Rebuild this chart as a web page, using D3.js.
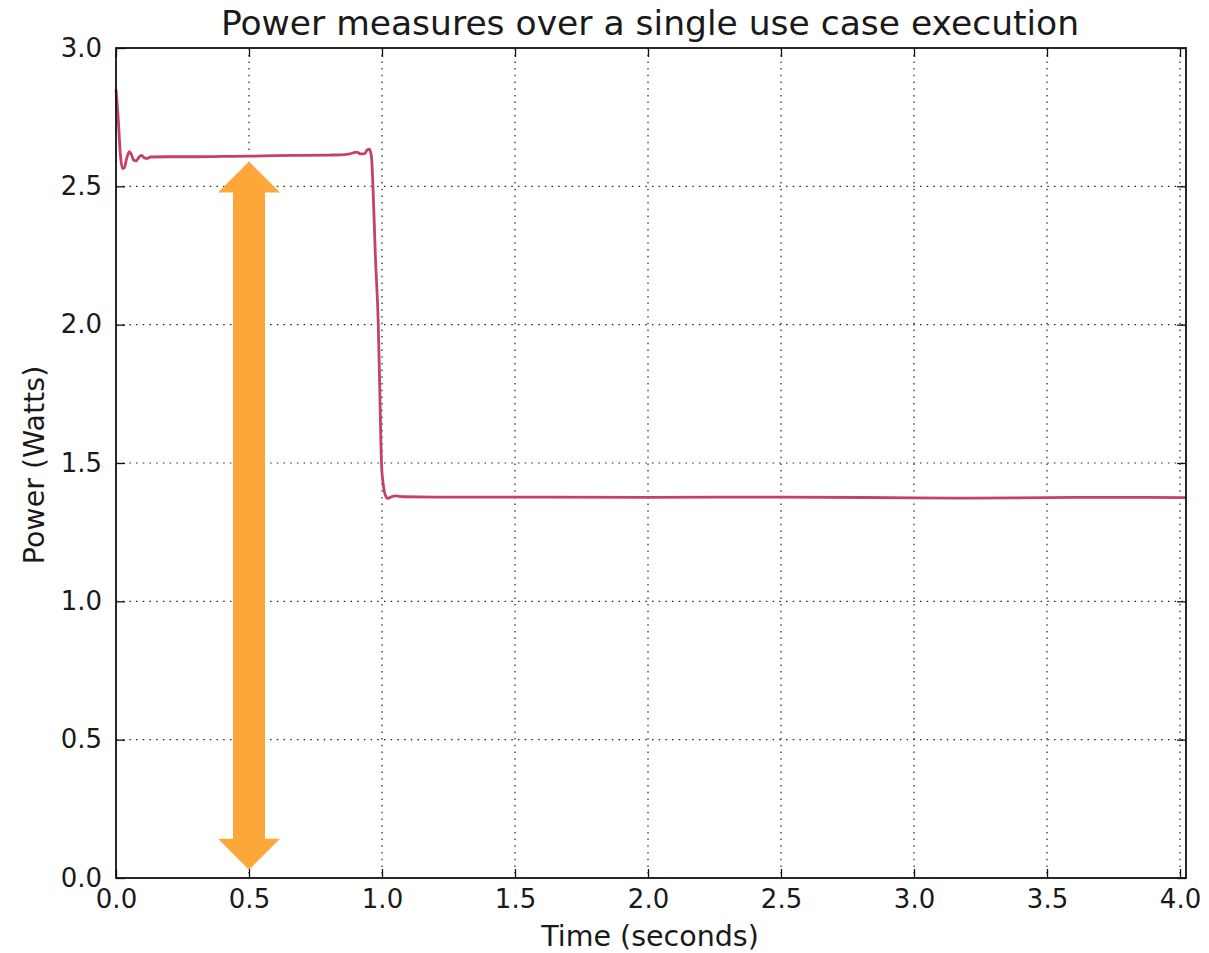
<!DOCTYPE html>
<html>
<head>
<meta charset="utf-8">
<script src="https://cdn.jsdelivr.net/npm/d3@7"></script>
<style>
  html, body { margin: 0; padding: 0; background: #fff; }
  svg { display: block; }
  text { font-family: "DejaVu Sans", sans-serif; fill: #1a1a1a; }
</style>
</head>
<body>
<svg id="chart" width="1209" height="953"></svg>
<script>
// Sampled power trace over one use-case run
const timeSec = [0.000, 0.008, 0.016, 0.024, 0.030, 0.040, 0.050, 0.058, 0.066, 0.076,
  0.086, 0.096, 0.106, 0.116, 0.130, 0.200, 0.300, 0.400, 0.500, 0.600,
  0.700, 0.800, 0.850, 0.880, 0.905, 0.920, 0.935, 0.945, 0.952, 0.960,
  0.966, 0.975, 0.986, 0.992, 0.998, 1.005, 1.012, 1.022, 1.035, 1.050,
  1.080, 1.200, 1.500, 2.000, 2.500, 3.000, 3.200, 3.500, 3.800, 4.0225];
const powerWatts = [2.850, 2.750, 2.620, 2.565, 2.565, 2.600, 2.625, 2.615, 2.595, 2.592,
  2.605, 2.612, 2.603, 2.601, 2.606, 2.607, 2.607, 2.608, 2.609, 2.611,
  2.612, 2.613, 2.614, 2.617, 2.624, 2.617, 2.618, 2.632, 2.634, 2.610,
  2.500, 2.250, 2.000, 1.750, 1.500, 1.420, 1.385, 1.372, 1.378, 1.381,
  1.378, 1.377, 1.377, 1.376, 1.377, 1.374, 1.373, 1.375, 1.376, 1.375];

// Axis ticks
const xTicks = [0, 0.5, 1.0, 1.5, 2.0, 2.5, 3.0, 3.5, 4.0];
const yTicks = [0, 0.5, 1.0, 1.5, 2.0, 2.5, 3.0];

// Double-headed arrow annotation (time, from power, to power)
const arrowTime = [0.5];
const arrowSpan = [0.03, 2.59];

const svg = d3.select("#chart");
const plotL = 116, plotR = 1186, plotT = 48, plotB = 878;

const x = d3.scaleLinear().domain([0, 4.0225]).range([plotL, plotR]);
const y = d3.scaleLinear().domain([0, 3]).range([plotB, plotT]);

// Dotted grid
const grid = svg.append("g").attr("stroke", "#222").attr("stroke-width", 1.2)
  .attr("stroke-dasharray", "1.5,5.2");
grid.selectAll(".vg").data(xTicks.filter(d => d > 0)).join("line")
  .attr("x1", d => x(d)).attr("x2", d => x(d)).attr("y1", plotT).attr("y2", plotB);
grid.selectAll(".hg").data(yTicks.filter(d => d > 0 && d < 3)).join("line")
  .attr("x1", plotL).attr("x2", plotR).attr("y1", d => y(d)).attr("y2", d => y(d));

// Power trace
const pts = timeSec.map((t, i) => [t, powerWatts[i]]);
const line = d3.line().x(d => x(d[0])).y(d => y(d[1])).curve(d3.curveMonotoneX);
svg.append("path").datum(pts)
  .attr("d", line).attr("fill", "none")
  .attr("stroke", "#c4406e").attr("stroke-width", 2.8)
  .attr("stroke-linejoin", "round");

// Arrow
const ax = x(arrowTime[0]);
const yTop = y(arrowSpan[1]), yBot = y(arrowSpan[0]);
const headLen = 31, headHalf = 31, shaftHalf = 16;
const arrowPath = d3.path();
arrowPath.moveTo(ax, yTop);
arrowPath.lineTo(ax + headHalf, yTop + headLen);
arrowPath.lineTo(ax + shaftHalf, yTop + headLen);
arrowPath.lineTo(ax + shaftHalf, yBot - headLen);
arrowPath.lineTo(ax + headHalf, yBot - headLen);
arrowPath.lineTo(ax, yBot);
arrowPath.lineTo(ax - headHalf, yBot - headLen);
arrowPath.lineTo(ax - shaftHalf, yBot - headLen);
arrowPath.lineTo(ax - shaftHalf, yTop + headLen);
arrowPath.lineTo(ax - headHalf, yTop + headLen);
arrowPath.closePath();
svg.append("path").attr("d", arrowPath.toString()).attr("fill", "#fda73a");

// Axes with inward ticks on all four sides
const tickLen = 9;
const xBottom = d3.axisBottom(x).tickValues(xTicks).tickSize(-tickLen).tickPadding(12)
  .tickFormat(d3.format(".1f"));
const xTop = d3.axisTop(x).tickValues(xTicks).tickSize(-tickLen).tickFormat("");
const yLeft = d3.axisLeft(y).tickValues(yTicks).tickSize(-tickLen).tickPadding(14)
  .tickFormat(d3.format(".1f"));
const yRight = d3.axisRight(y).tickValues(yTicks).tickSize(-tickLen).tickFormat("");

function styleAxis(g) {
  g.select(".domain").remove();
  g.selectAll(".tick line").attr("stroke", "#111").attr("stroke-width", 1.3);
  g.selectAll(".tick text").attr("font-family", "DejaVu Sans, sans-serif")
    .attr("font-size", 26).attr("fill", "#1a1a1a");
}
svg.append("g").attr("transform", `translate(0,${plotB})`).call(xBottom).call(styleAxis);
svg.append("g").attr("transform", `translate(0,${plotT})`).call(xTop).call(styleAxis);
svg.append("g").attr("transform", `translate(${plotL},0)`).call(yLeft).call(styleAxis);
svg.append("g").attr("transform", `translate(${plotR},0)`).call(yRight).call(styleAxis);

// Frame
svg.append("rect").attr("x", plotL).attr("y", plotT)
  .attr("width", plotR - plotL).attr("height", plotB - plotT)
  .attr("fill", "none").attr("stroke", "#111").attr("stroke-width", 1.8);

// Titles
svg.append("text").attr("x", 650).attr("y", 35)
  .attr("text-anchor", "middle").attr("font-size", 34.5)
  .text("Power measures over a single use case execution");
svg.append("text").attr("x", 650).attr("y", 946)
  .attr("text-anchor", "middle").attr("font-size", 28.5)
  .text("Time (seconds)");
svg.append("text").attr("transform", `translate(44,${(plotT + plotB) / 2 + 2}) rotate(-90)`)
  .attr("text-anchor", "middle").attr("font-size", 28.5)
  .text("Power (Watts)");
</script>
</body>
</html>
